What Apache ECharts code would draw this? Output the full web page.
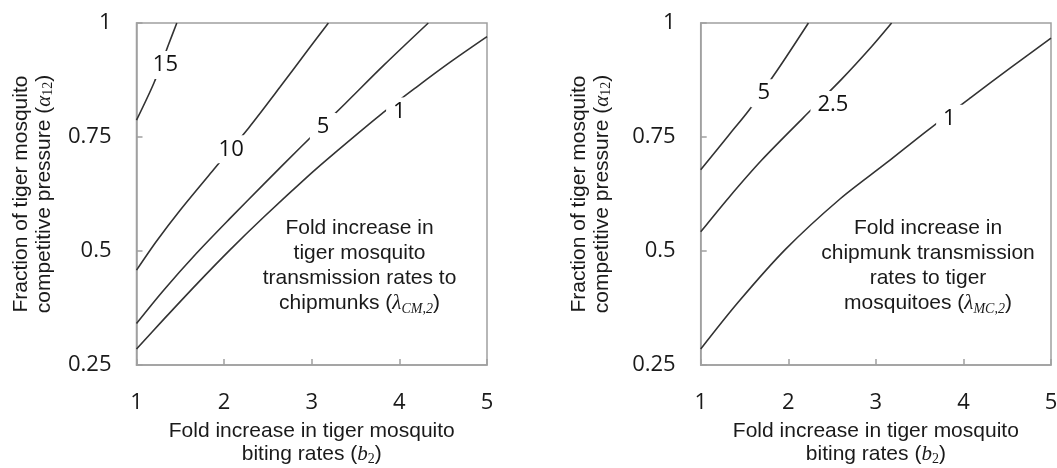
<!DOCTYPE html>
<html>
<head>
<meta charset="utf-8">
<script src="https://cdn.jsdelivr.net/npm/echarts@6/dist/echarts.min.js"></script>
<style>
  html, body { margin: 0; padding: 0; background: #fff; }
  #chart { width: 1057px; height: 468px; }
</style>
</head>
<body>
<div id="chart"></div>
<script>
// axis ticks
const xTicks = [1, 2, 3, 4, 5];
const yTicks = [0.25, 0.5, 0.75, 1];

// left panel: lambda_CM,2 contours  [b2, alpha12]
const cmCurve1 = [[1, 0.285], [1.31, 0.35], [1.69, 0.428], [2.07, 0.503], [2.45, 0.574], [2.98, 0.668], [3.25, 0.713], [3.78, 0.798], [4.2, 0.86], [4.58, 0.914], [5, 0.97]];
const cmCurve5 = [[1, 0.341], [1.31, 0.414], [1.69, 0.496], [2.07, 0.572], [2.45, 0.646], [2.87, 0.727], [3.38, 0.823], [3.82, 0.907], [4.33, 1]];
const cmCurve10 = [[1, 0.458], [1.23, 0.522], [1.5, 0.59], [1.9, 0.683], [2.28, 0.77], [2.64, 0.86], [2.96, 0.942], [3.19, 1]];
const cmCurve15 = [[1, 0.787], [1.2, 0.869], [1.37, 0.955], [1.46, 1]];
const cmLabels = [[1.33, 0.908, '15'], [2.08, 0.723, '10'], [3.13, 0.772, '5'], [4.0, 0.806, '1']];

// right panel: lambda_MC,2 contours
const mcCurve1 = [[1, 0.285], [1.43, 0.388], [1.97, 0.504], [2.59, 0.614], [3.12, 0.693], [3.58, 0.763], [4.08, 0.836], [4.54, 0.902], [5, 0.967]];
const mcCurve25 = [[1, 0.542], [1.32, 0.617], [1.7, 0.7], [2.17, 0.792], [2.61, 0.877], [2.95, 0.948], [3.18, 1]];
const mcCurve5 = [[1, 0.678], [1.32, 0.754], [1.56, 0.811], [1.88, 0.898], [2.23, 1]];
const mcLabels = [[1.72, 0.846, '5'], [2.51, 0.82, '2.5'], [3.84, 0.79, '1']];

const textColor = '#1a1a1a';
const rich = {
  t: { fontSize: 21, fontFamily: 'Liberation Sans', color: textColor, lineHeight: 23 },
  i: { fontSize: 21, fontFamily: 'Liberation Serif', fontStyle: 'italic', color: textColor, lineHeight: 23 },
  s: { fontSize: 14, fontFamily: 'Liberation Serif', color: textColor, lineHeight: 9, verticalAlign: 'bottom' }
};
const xName = '{t|Fold increase in tiger mosquito}\n{t|biting rates (}{i|b}{s|2}{t|)}';
const yName = '{t|Fraction of tiger mosquito}\n{t|competitive pressure (}{i|α}{s|12}{t|)}';

function xAxisFor(gridIndex) {
  return {
    type: 'value', gridIndex: gridIndex,
    min: xTicks[0], max: xTicks[xTicks.length - 1], interval: 1,
    name: xName, nameLocation: 'middle', nameGap: 55,
    nameTextStyle: { rich: rich },
    axisLine: { show: true, lineStyle: { color: '#a0a0a0', width: 1.5 } },
    axisTick: { show: true, inside: true, length: 6, lineStyle: { color: '#a0a0a0', width: 1.5 } },
    splitLine: { show: false },
    axisLabel: { margin: 27, fontSize: 22, fontFamily: 'Open Sans', color: textColor }
  };
}
function yAxisFor(gridIndex, gap) {
  return {
    type: 'value', gridIndex: gridIndex,
    min: yTicks[0], max: yTicks[yTicks.length - 1], interval: 0.25,
    name: yName, nameLocation: 'middle', nameRotate: 90, nameGap: gap,
    nameTextStyle: { rich: rich },
    axisLine: { show: true, lineStyle: { color: '#a0a0a0', width: 1.5 } },
    axisTick: { show: true, inside: true, length: 6, lineStyle: { color: '#a0a0a0', width: 1.5 } },
    splitLine: { show: false },
    axisLabel: { margin: 25, fontSize: 22, fontFamily: 'Open Sans', color: textColor }
  };
}
function curve(data, idx) {
  return {
    type: 'line', data: data, xAxisIndex: idx, yAxisIndex: idx,
    smooth: 0.3, symbol: 'none', silent: true,
    lineStyle: { color: '#333', width: 1.6 }
  };
}
function labels(list, idx) {
  return {
    type: 'scatter', xAxisIndex: idx, yAxisIndex: idx, symbolSize: 0.1, z: 10, silent: true,
    itemStyle: { color: '#fff', opacity: 1 },
    data: list.map(d => ({ value: [d[0], d[1]], name: d[2] })),
    label: {
      show: true, position: 'inside', formatter: '{b}', opacity: 1,
      fontSize: 22, fontFamily: 'Open Sans', color: '#111',
      backgroundColor: '#fff', padding: [3, 7]
    }
  };
}
function note(x, lines) {
  return {
    type: 'text', x: x, y: 216, z: 20,
    style: {
      text: lines, align: 'center', verticalAlign: 'top',
      rich: {
        t: { fontSize: 21, fontFamily: 'Liberation Sans', fill: textColor, lineHeight: 25 },
        i: { fontSize: 21, fontFamily: 'Liberation Serif', fontStyle: 'italic', fill: textColor, lineHeight: 25 },
        s: { fontSize: 14, fontFamily: 'Liberation Serif', fontStyle: 'italic', fill: textColor, lineHeight: 10, verticalAlign: 'bottom' }
      }
    }
  };
}

const chart = echarts.init(document.getElementById('chart'));
chart.setOption({
  animation: false,
  backgroundColor: '#fff',
  grid: [
    { left: 136.5, top: 23, width: 350.5, height: 342, outerBoundsMode: 'none', containLabel: false, show: true, borderColor: '#a0a0a0', borderWidth: 1.5 },
    { left: 700.7, top: 23, width: 350.3, height: 342, outerBoundsMode: 'none', containLabel: false, show: true, borderColor: '#a0a0a0', borderWidth: 1.5 }
  ],
  xAxis: [xAxisFor(0), xAxisFor(1)],
  yAxis: [yAxisFor(0, 81), yAxisFor(1, 87)],
  series: [
    curve(cmCurve1, 0), curve(cmCurve5, 0), curve(cmCurve10, 0), curve(cmCurve15, 0),
    labels(cmLabels, 0),
    curve(mcCurve1, 1), curve(mcCurve25, 1), curve(mcCurve5, 1),
    labels(mcLabels, 1)
  ],
  graphic: [
    note(359.5, '{t|Fold increase in}\n{t|tiger mosquito}\n{t|transmission rates to}\n{t|chipmunks (}{i|λ}{s|CM,2}{t|)}'),
    note(928, '{t|Fold increase in}\n{t|chipmunk transmission}\n{t|rates to tiger}\n{t|mosquitoes (}{i|λ}{s|MC,2}{t|)}')
  ]
});
</script>
</body>
</html>
